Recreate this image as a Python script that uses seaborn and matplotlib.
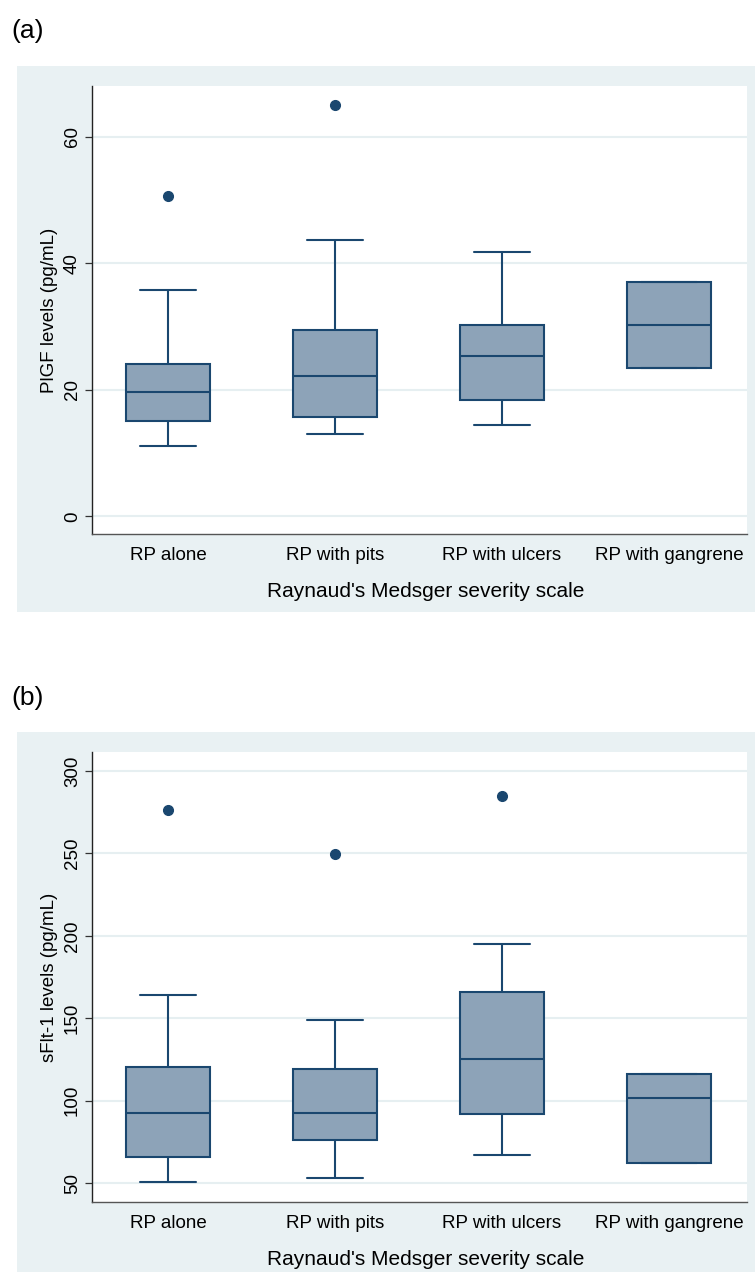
import numpy as np
import pandas as pd
import matplotlib
matplotlib.use("Agg")
import matplotlib.pyplot as plt
from matplotlib.patches import Rectangle
import seaborn as sns

# ---------------- data (five-number summaries) -------------
categories = ["RP alone", "RP with pits", "RP with ulcers", "RP with gangrene"]

plgf_low = [11.1, 13.0, 14.5, 23.5]
plgf_q1 = [15.0, 15.7, 18.3, 23.5]
plgf_med = [19.7, 22.2, 25.3, 30.2]
plgf_q3 = [24.0, 29.5, 30.2, 37.0]
plgf_high = [35.8, 43.7, 41.7, 37.0]
plgf_out = [50.6, 65.0, None, None]

sflt_low = [50.8, 52.9, 66.8, 62.1]
sflt_q1 = [65.6, 76.1, 91.7, 62.1]
sflt_med = [92.5, 92.5, 125.2, 101.6]
sflt_q3 = [120.4, 119.2, 165.9, 116.0]
sflt_high = [164.3, 148.9, 194.8, 116.0]
sflt_out = [276.2, 249.9, 284.7, None]

plgf_ticks = [0, 20, 40, 60]
sflt_ticks = [50, 100, 150, 200, 250, 300]

xlabel = "Raynaud's Medsger severity scale"
plgf_ylabel = "PlGF levels (pg/mL)"
sflt_ylabel = "sFlt-1 levels (pg/mL)"


def build_frame(low, q1, med, q3, high, out):
    rows = []
    for cat, lo, a, m, b, hi, o in zip(categories, low, q1, med, q3, high, out):
        vals = [lo, a, a, m, m, b, b, hi, o if o is not None else hi]
        for v in vals:
            rows.append({"group": cat, "value": v})
    return pd.DataFrame(rows)


df_a = build_frame(plgf_low, plgf_q1, plgf_med, plgf_q3, plgf_high, plgf_out)
df_b = build_frame(sflt_low, sflt_q1, sflt_med, sflt_q3, sflt_high, sflt_out)

# ---------------- style ----------------
sns.set_style("white")
plt.rcParams["font.family"] = ["Liberation Sans", "DejaVu Sans"]
plt.rcParams["text.color"] = "black"
plt.rcParams["axes.labelcolor"] = "black"
plt.rcParams["xtick.color"] = "black"
plt.rcParams["ytick.color"] = "black"

NAVY = "#1A476F"
FILL = "#8DA3B8"
BG = "#E9F1F3"
GRID = "#E6EFF1"
FS = 13.5

W, H = 755, 1272
fig = plt.figure(figsize=(W / 100, H / 100), dpi=100)
fig.patch.set_facecolor("white")

# panel backgrounds
fig.patches.append(Rectangle((17 / W, 1 - 612 / H), (W - 17) / W, (612 - 66) / H,
                             transform=fig.transFigure, facecolor=BG,
                             edgecolor="none", zorder=-5))
fig.patches.append(Rectangle((17 / W, 0), (W - 17) / W, (1272 - 732) / H,
                             transform=fig.transFigure, facecolor=BG,
                             edgecolor="none", zorder=-5))

ax_a = fig.add_axes([92 / W, 1 - 534 / H, 655 / W, 448 / H])
ax_b = fig.add_axes([92 / W, 1 - 1202 / H, 655 / W, 450 / H])


def draw(ax, df, ticks, ylim, ylabel):
    ax.set_facecolor("white")
    sns.boxplot(data=df, x="group", y="value", order=categories, ax=ax,
                color=FILL, linecolor=NAVY, linewidth=1.5, width=0.5,
                saturation=1, whis=1.5, capwidths=0.335,
                boxprops=dict(facecolor=FILL, edgecolor=NAVY),
                flierprops=dict(marker="o", markerfacecolor=NAVY,
                                markeredgecolor=NAVY, markersize=7))
    ax.set_xlim(-0.455, 3.467)
    ax.set_ylim(*ylim)
    ax.set_yticks(ticks)
    ax.set_yticklabels([str(t) for t in ticks], rotation=90, va="center",
                       fontsize=FS)
    ax.yaxis.grid(True, color=GRID, linewidth=1.5)
    ax.set_axisbelow(True)
    ax.tick_params(axis="y", direction="out", length=5, width=0.9,
                   color="#333333", pad=3, left=True)
    ax.tick_params(axis="x", length=0, pad=9, labelsize=FS)
    for s in ["top", "right"]:
        ax.spines[s].set_visible(False)
    ax.spines["left"].set_color("#222222")
    ax.spines["left"].set_linewidth(1.0)
    ax.spines["bottom"].set_color("#555555")
    ax.spines["bottom"].set_linewidth(1.0)
    ax.set_xlabel(xlabel, fontsize=15, labelpad=13)
    ax.xaxis.label.set_x(0.51)
    ax.set_ylabel(ylabel, fontsize=FS, labelpad=4)


draw(ax_a, df_a, plgf_ticks, (-2.8, 68), plgf_ylabel)
draw(ax_b, df_b, sflt_ticks, (38.5, 311.5), sflt_ylabel)

fig.text(28 / W, 1 - 31 / H, "(a)", fontsize=19, ha="center", va="center")
fig.text(28 / W, 1 - 698 / H, "(b)", fontsize=19, ha="center", va="center")

fig.savefig("out.png", dpi=100, facecolor="white")
